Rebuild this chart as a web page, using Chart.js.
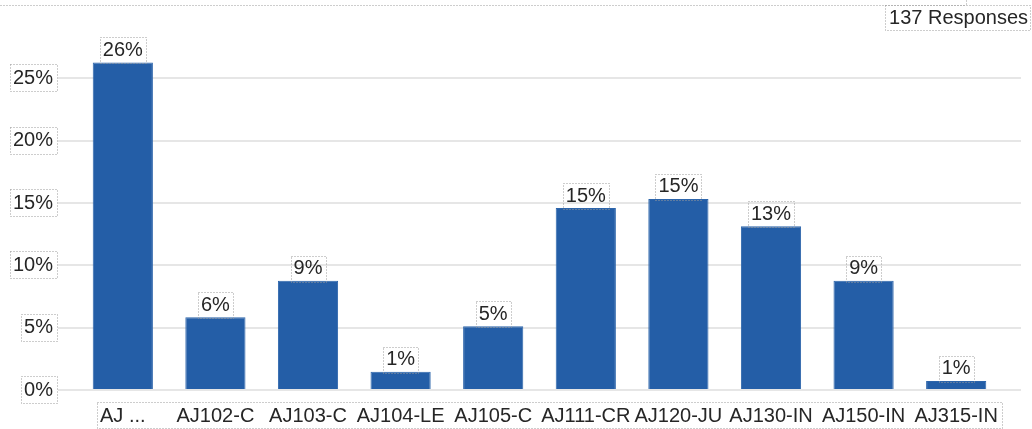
<!DOCTYPE html>
<html>
<head>
<meta charset="utf-8">
<script src="https://cdn.jsdelivr.net/npm/chart.js@4.4.1/dist/chart.umd.min.js"></script>
<style>
  html, body { margin: 0; padding: 0; background: #fff; overflow: hidden; }
  #wrap { width: 1032px; height: 429px; position: relative; }
</style>
</head>
<body>
<div id="wrap"><canvas id="c" width="1032" height="429"></canvas></div>
<script>
// Share of responses per course (percent)
const categories = ['AJ ...', 'AJ102-C', 'AJ103-C', 'AJ104-LE', 'AJ105-C', 'AJ111-CR', 'AJ120-JU', 'AJ130-IN', 'AJ150-IN', 'AJ315-IN'];
const sharePercent = [26.28, 5.84, 8.76, 1.46, 5.11, 14.60, 15.33, 13.14, 8.76, 0.73];
const yTickValues = [0, 5, 10, 15, 20, 25];
const totalResponses = 137;

const FONT = 'Liberation Sans, Arial, sans-serif';
const FONT_SIZE = 20;
const TEXT_COLOR = '#262626';
const BAR_COLOR = '#245ea7';
const Y_LABEL_PAD = 5;

function dottedRect(ctx, x0, y0, x1, y1) {
  ctx.save();
  ctx.strokeStyle = '#9a9a9a';
  ctx.lineWidth = 1;
  ctx.setLineDash([1, 2]);
  ctx.strokeRect(Math.round(x0) + 0.5, Math.round(y0) + 0.5, Math.round(x1 - x0), Math.round(y1 - y0));
  ctx.restore();
}

function dottedLine(ctx, x0, y0, x1, y1) {
  ctx.save();
  ctx.strokeStyle = '#9a9a9a';
  ctx.lineWidth = 1;
  ctx.setLineDash([1, 2]);
  ctx.beginPath();
  ctx.moveTo(Math.round(x0) + 0.5, Math.round(y0) + 0.5);
  ctx.lineTo(Math.round(x1) + 0.5, Math.round(y1) + 0.5);
  ctx.stroke();
  ctx.restore();
}

// Value labels above each bar, plus the outlined label frames and response count
const labelFrames = {
  id: 'labelFrames',
  afterDatasetsDraw(chart) {
    const ctx = chart.ctx;
    const meta = chart.getDatasetMeta(0);
    ctx.save();
    ctx.font = FONT_SIZE + 'px ' + FONT;
    ctx.fillStyle = TEXT_COLOR;
    ctx.textAlign = 'center';
    ctx.textBaseline = 'middle';
    meta.data.forEach((bar, i) => {
      const txt = Math.round(sharePercent[i]) + '%';
      const w = ctx.measureText(txt).width;
      const top = bar.y;
      ctx.fillText(txt, bar.x, top - 12);
      dottedRect(ctx, bar.x - w / 2 - 3, top - 25, bar.x + w / 2 + 3, top + 1);
    });
    ctx.restore();
  },
  afterDraw(chart) {
    const ctx = chart.ctx;
    const area = chart.chartArea;
    const yScale = chart.scales.y;
    const xScale = chart.scales.x;
    ctx.save();
    ctx.font = FONT_SIZE + 'px ' + FONT;

    // frames around y tick labels
    const right = area.left - Y_LABEL_PAD;
    yTickValues.forEach(v => {
      const py = yScale.getPixelForValue(v);
      const w = ctx.measureText(v + '%').width;
      dottedRect(ctx, right - w - 3, py - 14, right + 4, py + 12.5);
    });

    // one frame around the whole row of category labels
    const firstW = ctx.measureText(categories[0]).width;
    const lastW = ctx.measureText(categories[categories.length - 1]).width;
    const x0 = xScale.getPixelForValue(0) - firstW / 2 - 3;
    const x1 = xScale.getPixelForValue(categories.length - 1) + lastW / 2 + 4;
    dottedRect(ctx, x0, area.bottom + 12, x1, chart.height - 1);

    // header rule and response count
    dottedLine(ctx, 0, 5, 966, 5);
    dottedLine(ctx, 966, 0, 966, 5);
    const countText = totalResponses + ' Responses';
    const cw = ctx.measureText(countText).width;
    const cx1 = chart.width - 3;
    ctx.fillStyle = TEXT_COLOR;
    ctx.textAlign = 'right';
    ctx.textBaseline = 'middle';
    ctx.fillText(countText, cx1 - 1, 18.5);
    dottedRect(ctx, cx1 - cw - 5, 5, cx1 + 1, 30);
    ctx.restore();
  }
};

new Chart(document.getElementById('c'), {
  type: 'bar',
  data: {
    datasets: [{
      data: sharePercent.map((v, i) => ({ x: i, y: v })),
      backgroundColor: BAR_COLOR,
      borderColor: '#2d65ab',
      borderWidth: 1,
      barPercentage: 0.65,
      categoryPercentage: 1
    }]
  },
  options: {
    responsive: false,
    animation: false,
    devicePixelRatio: 1,
    layout: { padding: { top: 41, right: 11, left: 0, bottom: 0 } },
    plugins: { legend: { display: false }, tooltip: { enabled: false } },
    scales: {
      x: {
        type: 'linear',
        offset: false,
        min: -0.7,
        max: 9.7,
        grid: { display: false, drawTicks: false },
        border: { display: false },
        afterBuildTicks(scale) {
          scale.ticks = categories.map((_, i) => ({ value: i }));
        },
        afterFit(scale) { scale.height = 39; },
        ticks: {
          autoSkip: false,
          maxRotation: 0,
          minRotation: 0,
          padding: 14,
          color: TEXT_COLOR,
          font: { family: FONT, size: FONT_SIZE },
          callback: (v) => categories[v]
        }
      },
      y: {
        min: 0,
        max: 28,
        grid: { color: '#e6e6e6', lineWidth: 2, drawTicks: false },
        border: { display: false },
        afterBuildTicks(scale) {
          scale.ticks = yTickValues.map(v => ({ value: v }));
        },
        afterFit(scale) { scale.width = 58; },
        ticks: {
          padding: Y_LABEL_PAD,
          color: TEXT_COLOR,
          font: { family: FONT, size: FONT_SIZE },
          callback: (v) => v + '%'
        }
      }
    }
  },
  plugins: [labelFrames]
});
</script>
</body>
</html>
